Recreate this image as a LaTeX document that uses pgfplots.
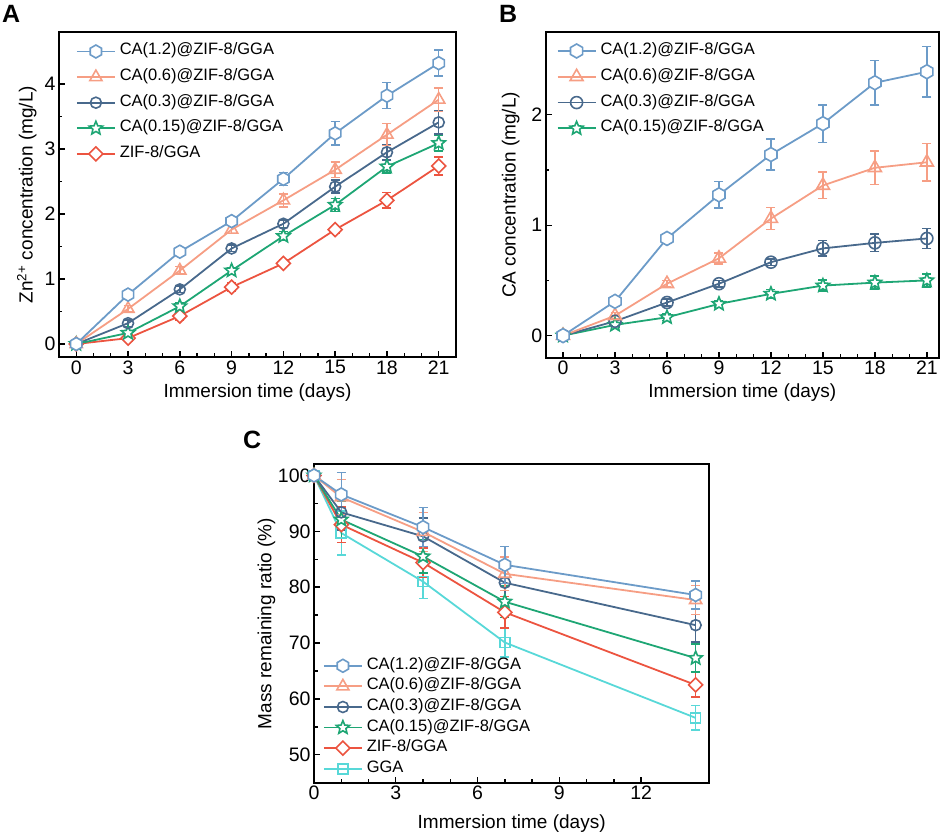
\documentclass[border=0pt]{standalone}
\usepackage{fontspec}
\setmainfont{Liberation Sans}
\usepackage{pgfplots}
\pgfplotsset{compat=1.18}
\usetikzlibrary{plotmarks}

\definecolor{cA}{RGB}{108,155,200}
\definecolor{cB}{RGB}{246,158,132}
\definecolor{cC}{RGB}{72,105,140}
\definecolor{cD}{RGB}{30,166,116}
\definecolor{cE}{RGB}{236,84,64}
\definecolor{cF}{RGB}{88,216,216}

\pgfdeclareplotmark{hexagon}{%
  \pgfpathmoveto{\pgfpointpolar{90}{\pgfplotmarksize}}%
  \pgfpathlineto{\pgfpointpolar{150}{\pgfplotmarksize}}%
  \pgfpathlineto{\pgfpointpolar{210}{\pgfplotmarksize}}%
  \pgfpathlineto{\pgfpointpolar{270}{\pgfplotmarksize}}%
  \pgfpathlineto{\pgfpointpolar{330}{\pgfplotmarksize}}%
  \pgfpathlineto{\pgfpointpolar{30}{\pgfplotmarksize}}%
  \pgfpathclose
  \pgfusepathqfillstroke}
\pgfdeclareplotmark{odiamond}{%
  \pgfpathmoveto{\pgfpoint{0pt}{\pgfplotmarksize}}%
  \pgfpathlineto{\pgfpoint{-\pgfplotmarksize}{0pt}}%
  \pgfpathlineto{\pgfpoint{0pt}{-\pgfplotmarksize}}%
  \pgfpathlineto{\pgfpoint{\pgfplotmarksize}{0pt}}%
  \pgfpathclose
  \pgfusepathqfillstroke}
\pgfdeclareplotmark{ostar}{%
  \pgfpathmoveto{\pgfpointpolar{90}{\pgfplotmarksize}}%
  \pgfpathlineto{\pgfpointpolar{126}{0.45\pgfplotmarksize}}%
  \pgfpathlineto{\pgfpointpolar{162}{\pgfplotmarksize}}%
  \pgfpathlineto{\pgfpointpolar{198}{0.45\pgfplotmarksize}}%
  \pgfpathlineto{\pgfpointpolar{234}{\pgfplotmarksize}}%
  \pgfpathlineto{\pgfpointpolar{270}{0.45\pgfplotmarksize}}%
  \pgfpathlineto{\pgfpointpolar{306}{\pgfplotmarksize}}%
  \pgfpathlineto{\pgfpointpolar{342}{0.45\pgfplotmarksize}}%
  \pgfpathlineto{\pgfpointpolar{18}{\pgfplotmarksize}}%
  \pgfpathlineto{\pgfpointpolar{54}{0.45\pgfplotmarksize}}%
  \pgfpathclose
  \pgfusepathqfillstroke}

\pgfplotsset{
  panel/.style={
    scale only axis,
    axis line style={line width=1.8pt},
    every tick/.style={line width=1.4pt, black},
    tick align=inside,
    tick pos=left,
    major tick length=6pt,
    minor tick length=3.5pt,
    ticklabel style={font=\fontsize{19.5}{19.5}\selectfont},
    label style={font=\fontsize{19}{20}\selectfont},
    /pgf/number format/assume math mode=true,
    reverse legend,
    legend cell align=left,
    legend style={draw=none, fill=none, inner sep=0pt, outer sep=0pt,
      font=\fontsize{16.5}{17}\selectfont,
      nodes={inner sep=0pt, text height=11pt, text depth=4pt},
      column sep=4pt},
    legend image code/.code={%
      \draw[mark repeat=2,mark phase=2,##1] plot coordinates {(0pt,0pt) (19pt,0pt) (38pt,0pt)};},
  },
  ser/.style n args={3}{color=#1, line width=1.8pt, mark=#2, mark size=#3,
    mark options={solid, fill=white, line width=1.6pt},
    /pgfplots/error bars/y dir=both, /pgfplots/error bars/y explicit,
    /pgfplots/error bars/error bar style={line width=1.5pt, solid},
    /pgfplots/error bars/error mark options={rotate=90, mark size=4.5pt, line width=1.5pt}},
}

\begin{document}
\begin{tikzpicture}
\useasboundingbox (0,0) rectangle (948pt,835pt);
\node[anchor=base west, inner sep=0pt, font=\fontsize{25}{25}\selectfont\bfseries] at (2pt,812pt) {A};
\node[anchor=base west, inner sep=0pt, font=\fontsize{25}{25}\selectfont\bfseries] at (499pt,812pt) {B};
\node[anchor=base west, inner sep=0pt, font=\fontsize{25}{25}\selectfont\bfseries] at (243pt,386pt) {C};

% ---------------- Panel A
\begin{axis}[panel, at={(59pt,478pt)}, anchor=south west,
  width=397pt, height=325pt,
  xmin=-1, xmax=22, ymin=-0.2, ymax=4.8,
  xtick={0,3,...,21}, minor x tick num=2,
  ytick={0,1,2,3,4}, minor y tick num=1,
  xlabel={Immersion time (days)},
  ylabel={Zn\textsuperscript{2+} concentration (mg/L)},
  xlabel style={at={(axis description cs:0.5,-0.111)}, anchor=center},
  ylabel style={at={(axis description cs:-0.081,0.5)}, anchor=center},
  legend style={at={(axis description cs:0,1)}, anchor=north west, xshift=17pt, yshift=-12pt, row sep=10.6pt},
]
\addplot[ser={cE}{odiamond}{7pt}] table[y error=e] {
x y e
0 0 0.03
3 0.09 0.05
6 0.43 0.06
9 0.875 0.06
12 1.24 0.05
15 1.76 0.05
18 2.21 0.12
21 2.74 0.14
};
\addlegendentry{ZIF-8/GGA}
\addplot[ser={cD}{ostar}{7pt}] table[y error=e] {
x y e
0 0 0.03
3 0.17 0.04
6 0.58 0.05
9 1.13 0.05
12 1.66 0.07
15 2.14 0.10
18 2.73 0.10
21 3.09 0.12
};
\addlegendentry{CA(0.15)@ZIF-8/GGA}
\addplot[ser={cC}{o}{5.5pt}] table[y error=e] {
x y e
0 0 0.03
3 0.32 0.05
6 0.84 0.05
9 1.47 0.05
12 1.85 0.06
15 2.42 0.10
18 2.95 0.12
21 3.41 0.18
};
\addlegendentry{CA(0.3)@ZIF-8/GGA}
\addplot[ser={cB}{triangle}{7pt}] table[y error=e] {
x y e
0 0 0.05
3 0.54 0.05
6 1.13 0.06
9 1.76 0.06
12 2.21 0.10
15 2.68 0.12
18 3.22 0.17
21 3.76 0.18
};
\addlegendentry{CA(0.6)@ZIF-8/GGA}
\addplot[ser={cA}{hexagon}{6.5pt}] table[y error=e] {
x y e
0 0 0.03
3 0.76 0.05
6 1.42 0.05
9 1.89 0.05
12 2.54 0.10
15 3.24 0.18
18 3.82 0.20
21 4.32 0.20
};
\addlegendentry{CA(1.2)@ZIF-8/GGA}
\end{axis}

% ---------------- Panel B
\begin{axis}[panel, at={(545.7pt,477.3pt)}, anchor=south west,
  width=393.3pt, height=325.7pt,
  xmin=-1, xmax=21.7, ymin=-0.2, ymax=2.75,
  xtick={0,3,...,21}, minor x tick num=2,
  ytick={0,1,2}, minor y tick num=1,
  xlabel={Immersion time (days)},
  ylabel={CA concentration (mg/L)},
  xlabel style={at={(axis description cs:0.5,-0.108)}, anchor=center},
  ylabel style={at={(axis description cs:-0.089,0.5)}, anchor=center},
  legend style={at={(axis description cs:0,1)}, anchor=north west, xshift=11pt, yshift=-11.5pt, row sep=10.8pt},
]
\addplot[ser={cD}{ostar}{7pt}] table[y error=e] {
x y e
0 0 0.02
3 0.097 0.02
6 0.166 0.03
9 0.287 0.03
12 0.378 0.04
15 0.453 0.05
18 0.48 0.06
21 0.50 0.06
};
\addlegendentry{CA(0.15)@ZIF-8/GGA}
\addplot[ser={cC}{o}{6pt}] table[y error=e] {
x y e
0 0 0.02
3 0.13 0.02
6 0.30 0.03
9 0.47 0.03
12 0.665 0.03
15 0.79 0.07
18 0.84 0.08
21 0.88 0.09
};
\addlegendentry{CA(0.3)@ZIF-8/GGA}
\addplot[ser={cB}{triangle}{7.5pt}] table[y error=e] {
x y e
0 0 0.04
3 0.18 0.03
6 0.47 0.03
9 0.70 0.05
12 1.06 0.10
15 1.36 0.12
18 1.52 0.15
21 1.57 0.17
};
\addlegendentry{CA(0.6)@ZIF-8/GGA}
\addplot[ser={cA}{hexagon}{7pt}] table[y error=e] {
x y e
0 0 0.02
3 0.31 0.04
6 0.88 0.04
9 1.275 0.12
12 1.64 0.14
15 1.92 0.17
18 2.29 0.20
21 2.39 0.23
};
\addlegendentry{CA(1.2)@ZIF-8/GGA}
\end{axis}

% ---------------- Panel C
\begin{axis}[panel, at={(314pt,52.3pt)}, anchor=south west,
  width=395.3pt, height=318.4pt,
  xmin=0, xmax=14.5, ymin=45, ymax=102,
  xtick={0,3,6,9,12}, minor x tick num=2,
  ytick={50,60,...,100}, minor y tick num=1,
  xlabel={Immersion time (days)},
  ylabel={Mass remaining ratio (\%)},
  xlabel style={at={(axis description cs:0.5,-0.127)}, anchor=center},
  ylabel style={at={(axis description cs:-0.12,0.5)}, anchor=center},
  legend style={at={(axis description cs:0,1)}, anchor=north west, xshift=9pt, yshift=-194pt, row sep=5.6pt},
]
\addplot[ser={cF}{square}{5pt}] table[y error=e] {
x y e
0 100 0.5
1 89.7 3.9
4 81.0 3.0
7 70.1 2.6
14 56.6 2.2
};
\addlegendentry{GGA}
\addplot[ser={cE}{odiamond}{7pt}] table[y error=e] {
x y e
0 100 0.5
1 91.2 3.2
4 84.4 2.6
7 75.5 2.8
14 62.5 2.2
};
\addlegendentry{ZIF-8/GGA}
\addplot[ser={cD}{ostar}{7pt}] table[y error=e] {
x y e
0 100 0.5
1 92.1 3.3
4 85.5 3.0
7 77.4 2.8
14 67.3 2.5
};
\addlegendentry{CA(0.15)@ZIF-8/GGA}
\addplot[ser={cC}{o}{5.5pt}] table[y error=e] {
x y e
0 100 0.5
1 93.4 3.2
4 89.1 3.3
7 80.8 3.0
14 73.2 3.0
};
\addlegendentry{CA(0.3)@ZIF-8/GGA}
\addplot[ser={cB}{triangle}{7pt}] table[y error=e] {
x y e
0 100 0.5
1 96.1 3.2
4 89.9 3.5
7 82.4 3.0
14 77.7 2.6
};
\addlegendentry{CA(0.6)@ZIF-8/GGA}
\addplot[ser={cA}{hexagon}{6.5pt}] table[y error=e] {
x y e
0 100 0.5
1 96.6 3.9
4 90.75 3.5
7 84.0 3.3
14 78.6 2.5
};
\addlegendentry{CA(1.2)@ZIF-8/GGA}
\end{axis}
\end{tikzpicture}
\end{document}
